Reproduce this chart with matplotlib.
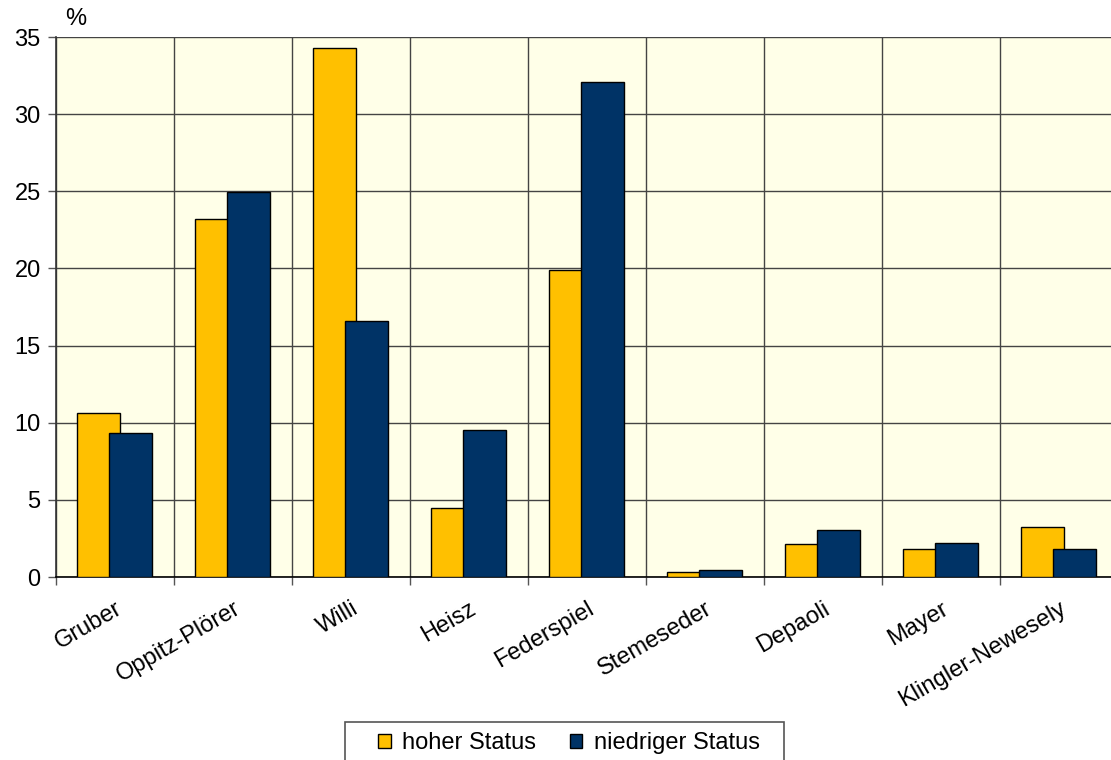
import matplotlib
matplotlib.use("Agg")
import matplotlib.pyplot as plt
import numpy as np
from matplotlib.patches import Patch, Rectangle

plt.rcParams['font.family'] = ['Liberation Sans', 'DejaVu Sans']

categories = ["Gruber", "Oppitz-Plörer", "Willi", "Heisz", "Federspiel",
              "Stemeseder", "Depaoli", "Mayer", "Klingler-Newesely"]
hoher = [10.6, 23.2, 34.3, 4.5, 19.9, 0.35, 2.15, 1.8, 3.25]
niedriger = [9.35, 24.95, 16.6, 9.5, 32.1, 0.45, 3.05, 2.2, 1.8]
yticks = [0, 5, 10, 15, 20, 25, 30, 35]

FS = 17
W, H = 1111, 760
fig = plt.figure(figsize=(W/100, H/100), dpi=100)
left, right, top, bottom = 56, 1118, 37, 577
ax = fig.add_axes([left/W, 1 - bottom/H, (right-left)/W, (bottom-top)/H])
ax.set_facecolor("#FFFFE8")

x = np.arange(len(categories))
bw = 0.364
g0 = -0.5 + 0.178
ax.bar(x + g0, hoher, width=bw, align='edge', color="#FFC000",
       edgecolor="black", linewidth=1, zorder=3)
ax.bar(x + g0 + 0.271, niedriger, width=bw, align='edge', color="#003366",
       edgecolor="black", linewidth=1, zorder=4)

ax.set_xlim(-0.5, len(categories) - 0.5)
ax.set_ylim(0, 35)
ax.set_yticks(yticks)
ax.set_yticklabels([str(v) for v in yticks], fontsize=FS)
ax.set_xticks(np.arange(len(categories) + 1) - 0.5)
ax.set_xticklabels([])
ax.set_xticks(x, minor=True)
ax.set_xticklabels(categories, minor=True, rotation=30, ha='right',
                   rotation_mode='anchor', fontsize=FS)
ax.tick_params(axis='x', which='minor', length=0, pad=15)
ax.tick_params(axis='x', which='major', length=6, width=1, color="#555555")
ax.tick_params(axis='y', length=6, width=1, color="#555555", pad=5)
ax.grid(True, which='major', color="#444444", linewidth=1, zorder=1)
ax.set_axisbelow(True)
for s in ['top', 'right']:
    ax.spines[s].set_visible(False)
ax.spines['left'].set_color("#333333")
ax.spines['bottom'].set_color("#000000")
ax.spines['left'].set_linewidth(1.2)
ax.spines['bottom'].set_linewidth(1.2)

fig.text(65/W, 1 - 19/H, "%", fontsize=FS, va='center', ha='left')

handles = [Patch(facecolor="#FFC000", edgecolor="black", label="hoher Status"),
           Patch(facecolor="#003366", edgecolor="black", label="niedriger Status")]
leg = fig.legend(handles=handles, loc='center', bbox_to_anchor=(569/W, 1 - 743/H),
                 ncol=2, fontsize=FS, frameon=False,
                 handlelength=0.52, handleheight=0.52,
                 columnspacing=1.4, handletextpad=0.5, borderpad=0,
                 borderaxespad=0)
fig.patches.append(Rectangle((345/W, 1 - 770/H), (784-345)/W, (770-722)/H,
                             transform=fig.transFigure, facecolor="white",
                             edgecolor="#555555", linewidth=1.2, zorder=0))

fig.savefig("out.png", dpi=100)
